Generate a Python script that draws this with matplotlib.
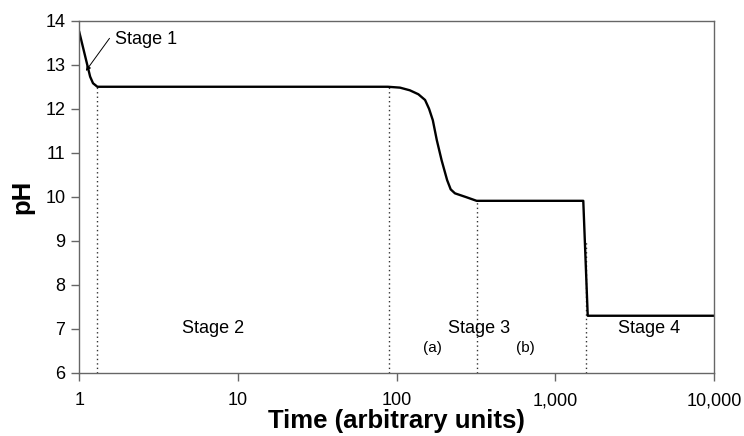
import numpy as np
import matplotlib as mpl
import matplotlib.pyplot as plt
from matplotlib.ticker import FixedLocator, FixedFormatter, NullLocator

mpl.use('Agg')
plt.rcParams['font.family'] = ['Liberation Sans', 'DejaVu Sans']

# pH curve (time on log axis)
time = [1, 1.17, 1.22, 1.3, 88, 105, 121, 137, 151, 160, 169, 179, 192, 208, 219, 233, 276, 319,
        1500, 1600, 10000]
ph = [13.74, 12.73, 12.58, 12.50, 12.50, 12.48, 12.42, 12.33, 12.20, 12.00, 11.74, 11.29, 10.83, 10.38,
      10.17, 10.08, 9.99, 9.91, 9.91, 7.30, 7.30]

# dotted stage boundaries: x and the pH they reach up to
bound_x = [1.3, 90, 319, 1550]
bound_top = [12.50, 12.50, 9.91, 9.0]

stage_labels = ['Stage 2', 'Stage 3', 'Stage 4']
stage_x = [7.0, 330, 3890]
stage_y = [7.0, 7.0, 7.0]
sub_labels = ['(a)', '(b)']
sub_x = [168, 649]
sub_y = [6.56, 6.56]

xticks = [1, 10, 100, 1000, 10000]
xtick_labels = ['1', '10', '100', '1,000', '10,000']
yticks = [6, 7, 8, 9, 10, 11, 12, 13, 14]

fig = plt.figure(figsize=(7.44, 4.36), dpi=100)
ax = fig.add_axes([0.1066, 0.1445, 0.8531, 0.808])

ax.vlines(bound_x, 6, bound_top, colors='#333333', linestyles=(0, (1, 2.2)), linewidth=1.0)
ax.plot(time, ph, color='black', linewidth=1.7, solid_joinstyle='round')

ax.set_xscale('log')
ax.set_xlim(1, 10000)
ax.set_ylim(6, 14)
ax.xaxis.set_major_locator(FixedLocator(xticks))
ax.xaxis.set_major_formatter(FixedFormatter(xtick_labels))
ax.xaxis.set_minor_locator(NullLocator())
ax.set_yticks(yticks)

for s in ax.spines.values():
    s.set_color('#666666')
    s.set_linewidth(1.0)
ax.tick_params(axis='both', direction='out', length=6, width=1.0, color='#666666',
               labelsize=13, pad=4)
ax.tick_params(axis='x', pad=8)

ax.set_xlabel('Time (arbitrary units)', fontsize=18.5, fontweight='bold', labelpad=0)
ax.set_ylabel('pH', fontsize=18.5, fontweight='bold', labelpad=8)

for lab, x, y in zip(stage_labels, stage_x, stage_y):
    ax.text(x, y, lab, fontsize=13, ha='center', va='center')
for lab, x, y in zip(sub_labels, sub_x, sub_y):
    ax.text(x, y, lab, fontsize=11, ha='center', va='center')

ax.text(1.68, 13.58, 'Stage 1', fontsize=13, ha='left', va='center')
ax.annotate('', xy=(1.10, 12.86), xytext=(1.55, 13.6),
            arrowprops=dict(arrowstyle='-|>', lw=0.7, color='black', mutation_scale=7,
                            shrinkA=0, shrinkB=0))

fig.savefig('out.png', dpi=100)
